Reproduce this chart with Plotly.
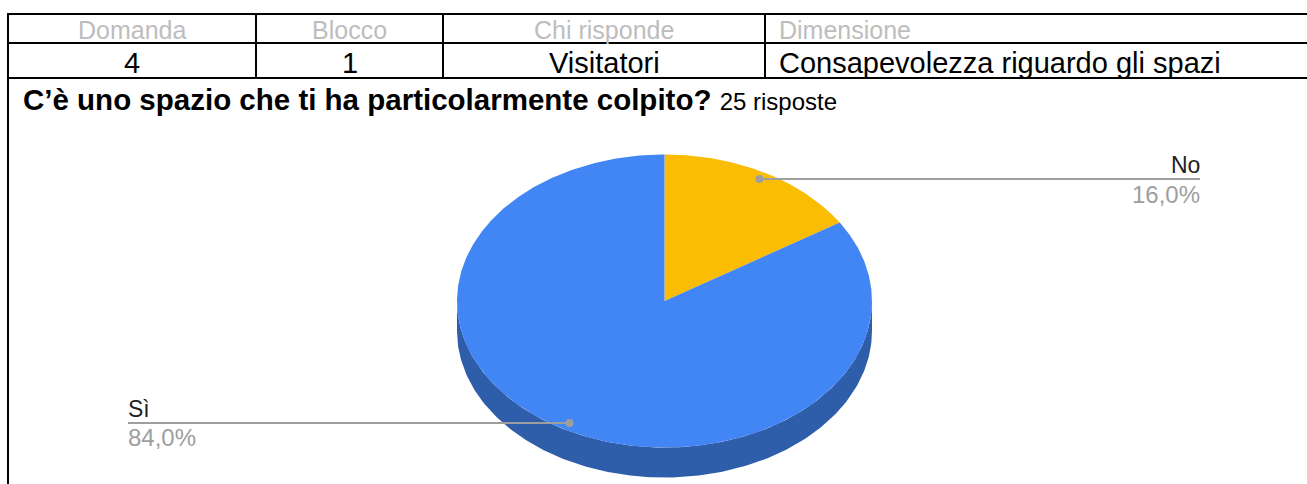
import numpy as np
import plotly.graph_objects as go

# ---------------- data ----------------
header_labels = ["Domanda", "Blocco", "Chi risponde", "Dimensione"]
header_values = ["4", "1", "Visitatori", "Consapevolezza riguardo gli spazi"]
question = "C’è uno spazio che ti ha particolarmente colpito?"
responses_note = "25 risposte"
categories = ["No", "Sì"]
shares = [16.0, 84.0]
slice_colors = ["#fbbc04", "#4285f4"]
side_color = "#2e5ea9"

# ---------------- layout geometry (pixels) ----------------
W, H = 1307, 484
col_edges = [8, 256, 443, 765, 1307]
col_align = ["center", "center", "center", "left"]
row_lines = [14, 43, 78]
CX, CY, RX, RY, DEPTH = 664.5, 301.0, 207.5, 146.5, 30.0
FONT = "Arial, Liberation Sans, Helvetica, sans-serif"


def ell(theta_deg, cy=CY, f=1.0):
    t = np.radians(theta_deg)
    return CX + f * RX * np.sin(t), cy - f * RY * np.cos(t)


fig = go.Figure()

# side (visible lower half of the cylinder)
th_top = np.linspace(90, 270, 200)
xs1, ys1 = ell(th_top)
xs2, ys2 = ell(th_top[::-1], cy=CY + DEPTH)
fig.add_trace(go.Scatter(
    x=np.concatenate([xs1, xs2]), y=np.concatenate([ys1, ys2]),
    fill="toself", fillcolor=side_color, mode="lines", line=dict(width=0),
    hoverinfo="skip", showlegend=False))

# top face slices
total = sum(shares)
start = 0.0
mids = []
for cat, val, col in zip(categories, shares, slice_colors):
    span = 360.0 * val / total
    th = np.linspace(start, start + span, max(int(span * 2), 10))
    ax, ay = ell(th)
    fig.add_trace(go.Scatter(
        x=np.concatenate([[CX], ax, [CX]]), y=np.concatenate([[CY], ay, [CY]]),
        fill="toself", fillcolor=col, mode="lines", line=dict(width=0),
        name=cat, hoverinfo="name", showlegend=False))
    mids.append(start + span / 2)
    start += span

# leader lines and labels
annotations = []
for cat, val, mid in zip(categories, shares, mids):
    dx, dy = ell(mid, f=0.95)
    right = np.sin(np.radians(mid)) > 0
    end_x = 1200 if right else 128
    fig.add_trace(go.Scatter(
        x=[dx, end_x], y=[dy, dy], mode="lines",
        line=dict(color="#9e9e9e", width=2), hoverinfo="skip", showlegend=False))
    fig.add_trace(go.Scatter(
        x=[dx], y=[dy], mode="markers",
        marker=dict(color="#9e9e9e", size=8), hoverinfo="skip", showlegend=False))
    anchor = "right" if right else "left"
    ax_off = 2 if right else -2
    annotations.append(dict(
        x=end_x + ax_off, y=dy - 14, xref="x", yref="y", text=cat, showarrow=False,
        xanchor=anchor, yanchor="middle", font=dict(family=FONT, size=23, color="#222222")))
    annotations.append(dict(
        x=end_x + ax_off, y=dy + 15, xref="x", yref="y",
        text=f"{val:.1f}%".replace(".", ","), showarrow=False,
        xanchor=anchor, yanchor="middle", font=dict(family=FONT, size=24, color="#9e9e9e")))

# table text
for i, (lab, val) in enumerate(zip(header_labels, header_values)):
    x0, x1 = col_edges[i], col_edges[i + 1]
    if col_align[i] == "center":
        tx, xa = (x0 + x1) / 2, "center"
    else:
        tx, xa = x0 + 12, "left"
    annotations.append(dict(
        x=tx, y=30, xref="x", yref="y", text=lab, showarrow=False,
        xanchor=xa, yanchor="middle", font=dict(family=FONT, size=25, color="#bdbdbd")))
    annotations.append(dict(
        x=tx, y=63, xref="x", yref="y", text=val, showarrow=False,
        xanchor=xa, yanchor="middle", font=dict(family=FONT, size=29, color="#000000")))

# title
annotations.append(dict(
    x=21, y=99, xref="x", yref="y",
    text=f"<b>{question}</b> <span style='font-size:24px'>{responses_note}</span>",
    showarrow=False, xanchor="left", yanchor="middle",
    font=dict(family=FONT, size=29.5, color="#000000")))

# table lines
shapes = []
for yv in row_lines:
    shapes.append(dict(type="line", xref="x", yref="y", x0=col_edges[0] - 1, x1=W + 5,
                       y0=yv, y1=yv, line=dict(color="black", width=2)))
shapes.append(dict(type="line", xref="x", yref="y", x0=col_edges[0], x1=col_edges[0],
                   y0=row_lines[0], y1=H + 5, line=dict(color="black", width=2)))
for xv in col_edges[1:-1]:
    shapes.append(dict(type="line", xref="x", yref="y", x0=xv, x1=xv,
                       y0=row_lines[0], y1=row_lines[-1], line=dict(color="black", width=2)))

fig.update_layout(
    width=W, height=H, autosize=False,
    margin=dict(l=0, r=0, t=0, b=0),
    paper_bgcolor="white", plot_bgcolor="white",
    xaxis=dict(range=[0, W], visible=False, fixedrange=True),
    yaxis=dict(range=[H, 0], visible=False, fixedrange=True),
    annotations=annotations, shapes=shapes,
)

fig.write_html("out.html", config={"displayModeBar": False},
               post_script="document.body.style.margin='0';")
